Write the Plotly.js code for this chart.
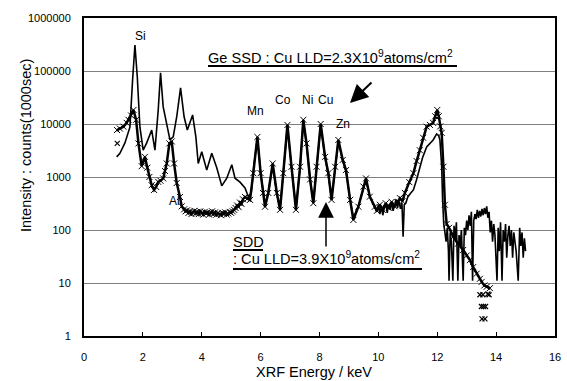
<!DOCTYPE html>
<html>
<head>
<meta charset="utf-8">
<script src="https://cdn.plot.ly/plotly-3.0.1.min.js"></script>
<style>html,body{margin:0;padding:0;background:#fff;}#chart{width:567px;height:381px;}</style>
</head>
<body>
<div id="chart"></div>
<script>
// Ge SSD spectrum (solid line): energy keV, counts
const geX = [
1.11,1.22,1.39,1.56,1.65,1.73,1.81,1.90,2.01,2.13,
2.30,2.41,2.52,2.60,2.69,2.81,2.92,3.03,3.15,3.28,
3.40,3.51,3.69,3.80,3.88,4.00,4.17,4.34,4.51,4.68,
4.85,5.02,5.13,5.30,5.47,5.58,5.68,5.78,5.89,6.00,
6.15,6.26,6.41,6.55,6.66,6.77,6.91,7.05,7.20,7.34,
7.45,7.56,7.68,7.79,7.90,8.04,8.19,8.30,8.41,8.53,
8.64,8.79,8.90,9.04,9.15,9.32,9.49,9.58,9.71,9.88,
9.95,10.00,10.05,10.10,10.15,10.20,10.25,10.30,10.35,10.40,
10.45,10.50,10.55,10.60,10.65,10.70,10.75,10.80,10.84,10.88,
10.93,11.00,11.10,11.19,11.30,11.41,11.50,11.64,11.75,11.86,
11.98,12.05,12.09,12.15,12.18,12.22,12.26,12.30,12.34,12.38,
12.40,12.44,12.48,12.53,12.57,12.61,12.65,12.70,12.74,12.78,
12.82,12.88,12.92,12.96,13.00,13.04,13.08,13.12,13.16,13.20,
13.24,13.28,13.32,13.36,13.40,13.44,13.48,13.52,13.56,13.60,
13.64,13.68,13.72,13.76,13.80,13.84,13.88,13.92,13.96,14.03,
14.07,14.11,14.15,14.20,14.24,14.28,14.32,14.36,14.40,14.44,
14.48,14.52,14.56,14.60,14.64,14.68,14.75,14.80,14.84,14.88,
14.92,14.96,15.00];
const geY = [
2400,2800,4400,8700,67000,310000,78000,8700,3200,4400,
7700,3200,18000,92000,21000,10500,5000,5700,13700,48000,
13700,7700,14800,5700,1800,3000,1350,2800,1500,680,
950,1700,950,800,620,430,500,1800,5500,1200,
300,500,1700,480,260,1200,9000,1500,260,1500,
11000,4000,900,330,1500,9500,2300,1100,380,1500,
4800,2000,1300,380,170,280,650,900,420,270,
220,300,200,280,190,260,320,210,300,240,
330,230,300,380,260,350,250,330,75,300,
320,420,500,570,900,1560,2300,3700,4300,5000,
6500,6000,5000,1600,400,130,90,60,110,40,
11,90,60,11,120,70,140,11,80,50,
100,11,110,80,150,100,190,120,220,11,
150,200,160,240,170,230,180,250,190,260,
200,280,170,220,90,150,60,130,80,11,
110,40,140,11,100,60,130,30,80,120,
50,100,30,90,60,40,11,110,50,90,
30,70,40];

// SDD spectrum (x markers)
const sddX = [
1.12,1.22,1.34,1.45,1.51,1.60,1.68,1.77,1.85,1.96,
2.07,2.15,2.22,2.30,2.38,2.45,2.52,2.60,2.69,2.75,
2.81,2.90,2.98,3.06,3.15,3.26,3.32,3.40,3.45,3.50,
3.55,3.60,3.65,3.70,3.75,3.80,3.85,3.90,3.95,4.00,
4.05,4.10,4.15,4.20,4.25,4.30,4.35,4.40,4.45,4.50,
4.55,4.60,4.65,4.70,4.75,4.80,4.85,4.90,4.95,5.00,
5.05,5.10,5.15,5.20,5.25,5.30,5.35,5.40,5.47,5.55,
5.64,5.75,5.89,6.00,6.08,6.15,6.26,6.41,6.55,6.66,
6.77,6.91,7.05,7.20,7.34,7.45,7.56,7.68,7.79,7.90,
8.04,8.19,8.30,8.41,8.53,8.64,8.79,8.90,9.04,9.15,
9.32,9.49,9.58,9.71,9.88,9.95,10.05,10.15,10.25,10.35,
10.45,10.55,10.65,10.73,10.82,10.90,11.05,11.19,11.30,11.41,
11.52,11.64,11.75,11.86,11.93,12.00,12.05,12.10,12.15,12.21,
12.26,12.32,12.40,12.55,12.70,12.88,13.00,13.11,13.22,13.34,
13.45,13.51,13.60,13.68,13.79];
const sddY = [
7700,8200,8900,10500,12000,14500,18400,12000,4300,1600,
2400,1500,1000,700,570,650,810,850,940,1300,
1800,4300,4700,1800,770,420,280,245,225,235,
210,225,200,215,230,205,220,200,225,210,
195,220,205,215,195,210,225,200,215,195,
210,200,190,210,200,215,195,205,220,210,
225,240,260,290,270,330,310,380,420,390,
370,1180,5700,1180,500,275,500,1800,500,240,
1180,9600,1560,240,1560,12000,4300,900,320,1560,
10000,2400,1180,370,1560,5000,2100,1350,370,155,
275,660,940,425,275,230,300,240,320,260,
340,280,330,400,350,500,800,1180,2000,3200,
5500,8900,9600,10500,14000,18400,14000,9000,6800,1560,
300,130,110,75,55,42,33,27,20,15,
12,10.5,9,8.5,8];
// isolated SDD points
const sddExtraX = [1.13,13.45,13.55,13.72,13.76,13.50,13.57,13.64,13.52,13.62];
const sddExtraY = [4300,6,6,6.2,6,3.6,3.6,3.6,2.1,2.1];

const yTickVals = [1,10,100,1000,10000,100000,1000000];
const yTickText = ["1","10","100","1000","10000","100000","1000000"];
const xTickVals = [0,2,4,6,8,10,12,14,16];

const FONT = "Liberation Sans, Arial, sans-serif";
const L = 84, R = 555, T = 18, B = 336;
const px = v => (v - L) / (R - L);
const py = v => (B - v) / (B - T);

const traces = [
  {x: geX, y: geY, type: 'scatter', mode: 'lines', line: {color: '#000', width: 1.6}, hoverinfo: 'skip'},
  {x: sddX, y: sddY, type: 'scatter', mode: 'lines+markers',
   line: {color: '#000', width: 2.5},
   marker: {symbol: 'x-thin-open', size: 6, color: '#000', line: {color: '#000', width: 1}}, hoverinfo: 'skip'},
  {x: sddExtraX, y: sddExtraY, type: 'scatter', mode: 'markers',
   marker: {symbol: 'x-thin-open', size: 5, color: '#000', line: {color: '#000', width: 1.2}}, hoverinfo: 'skip'}
];

const lbl = (text, x, y) => ({text: text, xref: 'paper', yref: 'paper', x: px(x), y: py(y),
  xanchor: 'center', yanchor: 'middle', showarrow: false, font: {family: FONT, size: 12, color: '#000'}});

const annotations = [
  lbl('Si', 140, 36), lbl('Mn', 255, 111), lbl('Co', 283, 100), lbl('Ni', 307, 100),
  lbl('Cu', 325, 100), lbl('Zn', 343, 124), lbl('Al', 174, 201),
  {text: 'Ge SSD : Cu LLD=2.3X10<sup>9</sup>atoms/cm<sup>2</sup>', xref: 'paper', yref: 'paper',
   x: px(206), y: py(57), xanchor: 'left', yanchor: 'middle', showarrow: false,
   font: {family: FONT, size: 14.6, color: '#000'}},
  {text: 'SDD', xref: 'paper', yref: 'paper', x: px(231), y: py(242), xanchor: 'left', yanchor: 'middle',
   showarrow: false, font: {family: FONT, size: 14.6, color: '#000'}},
  {text: ': Cu LLD=3.9X10<sup>9</sup>atoms/cm<sup>2</sup>', xref: 'paper', yref: 'paper',
   x: px(231), y: py(258), xanchor: 'left', yanchor: 'middle', showarrow: false,
   font: {family: FONT, size: 14.6, color: '#000'}},
  {text: '', xref: 'paper', yref: 'paper', x: px(350), y: py(103), showarrow: true,
   ax: 23, ay: -22, arrowhead: 2, arrowsize: 1.8, arrowwidth: 2, arrowcolor: '#000'},
  {text: '', xref: 'paper', yref: 'paper', x: px(326), y: py(202), showarrow: true,
   ax: 0, ay: 46, arrowhead: 2, arrowsize: 2.1, arrowwidth: 1.5, arrowcolor: '#000'},
  {text: 'Intensity : counts(1000sec)', xref: 'paper', yref: 'paper', x: px(26), y: py(146),
   textangle: -90, showarrow: false, xanchor: 'center', yanchor: 'middle',
   font: {family: FONT, size: 14.5, color: '#000'}},
  {text: 'XRF Energy / keV', xref: 'paper', yref: 'paper', x: px(314), y: py(372),
   showarrow: false, xanchor: 'center', yanchor: 'middle',
   font: {family: FONT, size: 14.5, color: '#000'}}
];

const uline = (x0, x1, y) => ({type: 'line', xref: 'paper', yref: 'paper',
  x0: px(x0), x1: px(x1), y0: py(y), y1: py(y), line: {color: '#000', width: 2}});

const layout = {
  width: 567, height: 381,
  margin: {l: L, r: 567 - R, t: T, b: 381 - B, pad: 0},
  paper_bgcolor: '#fff', plot_bgcolor: '#fff',
  showlegend: false,
  font: {family: FONT, size: 11, color: '#000'},
  xaxis: {
    range: [0, 16], tickmode: 'array', tickvals: xTickVals,
    ticks: 'inside', ticklen: 4, tickwidth: 1, tickcolor: '#000',
    showgrid: false, zeroline: false,
    showline: true, linecolor: '#000', linewidth: 2, mirror: true,
    tickfont: {family: FONT, size: 11, color: '#000'},
    ticklabelstandoff: 10
  },
  yaxis: {
    type: 'log', range: [0, 6], tickmode: 'array', tickvals: yTickVals, ticktext: yTickText,
    ticks: '', showgrid: true, gridcolor: '#808080', gridwidth: 1, zeroline: false,
    showline: true, linecolor: '#000', linewidth: 2, mirror: true,
    tickfont: {family: FONT, size: 11, color: '#000'},
    ticklabelstandoff: 9
  },
  annotations: annotations,
  shapes: [uline(208, 457, 66), uline(233, 263, 250), uline(233, 422, 269)]
};

Plotly.newPlot('chart', traces, layout, {displayModeBar: false, staticPlot: true});
</script>
</body>
</html>
